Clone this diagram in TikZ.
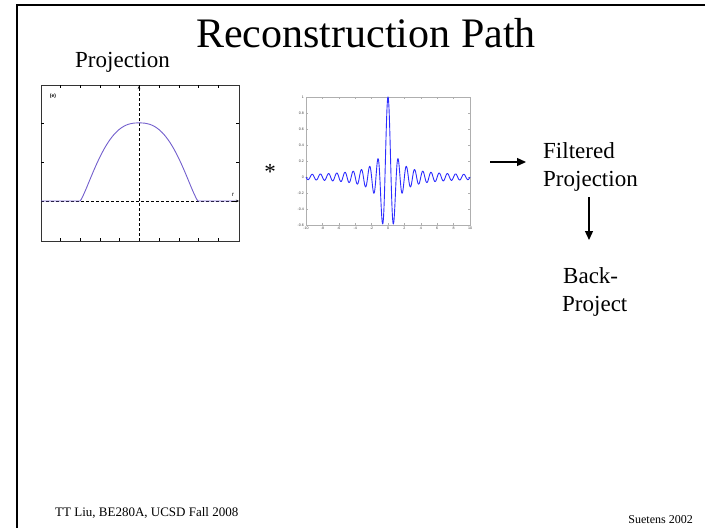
\documentclass[tikz,border=0pt]{standalone}
\usepackage{fontspec}
\setmainfont{Liberation Serif}
\setsansfont{Liberation Sans}
\usetikzlibrary{arrows.meta}
\definecolor{curvepurple}{RGB}{115,95,205}
\definecolor{filterblue}{RGB}{45,45,255}
\definecolor{axisgray}{RGB}{175,175,175}
\tikzset{
  txt/.style={inner sep=0pt, font=\fontsize{23}{28}\selectfont},
  arr/.style={line width=1.3pt, -{Triangle[length=9pt,width=8pt]}},
  tinylab/.style={inner sep=0pt, font=\sffamily\fontsize{3.6}{4}\selectfont, text=black!75},
  tk/.style={line width=0.4pt},
  gtk/.style={line width=0.35pt, draw=axisgray}
}
\begin{document}
\begin{tikzpicture}[x=1pt,y=-1pt]
\useasboundingbox (0,0) rectangle (706,528);
% slide border
\draw[line width=1.5pt] (705,5) -- (17,5) -- (17,528);
% title
\node[inner sep=0pt, anchor=base, font=\fontsize{42}{50}\selectfont] (title) at (366,47) {Reconstruction Path};
\node[txt, anchor=base west] (proj) at (75,67) {Projection};

% ---------- plot 1: projection ----------
\draw[line width=0.8pt, black!80] (41,85) rectangle (239,241);
\foreach \t in {60,80,100,119,139,159,179,198,218}{
  \draw[tk] (\t,85) -- (\t,88);
  \draw[tk] (\t,241) -- (\t,238);
}
\foreach \t in {123,162}{
  \draw[tk] (41,\t) -- (44,\t);
  \draw[tk] (239,\t) -- (236,\t);
}
\draw[dashed, line width=0.6pt, dash pattern=on 3pt off 2pt, -{Stealth[length=3pt,width=2.5pt]}] (139,241) -- (139,86);
\draw[dashed, line width=0.6pt, dash pattern=on 3pt off 2pt] (41,201) -- (237,201);
\draw[curvepurple, line width=0.9pt] (41,201) -- (80,201)
  -- plot[domain=-0.999:0.999, samples=120] ({139+59*(\x)},{201-78*(max(1.001-(abs(\x)+0.0001)^2.5,0.0001))^1.3})
  -- (198,201) -- (238,201);
\draw[line width=0.5pt, -{Stealth[length=3pt,width=2.5pt]}] (232,201) -- (239,201);
\node[inner sep=0pt, font=\sffamily\bfseries\fontsize{5}{6}\selectfont] (elab) at (53,96) {(e)};
\node[inner sep=0pt, font=\sffamily\fontsize{6}{7}\selectfont] (rlab) at (233,195) {r};

% convolution star
\node[txt] (star) at (270,172) {*};

% ---------- plot 2: filter kernel ----------
\draw[line width=0.4pt, draw=axisgray] (306,97) rectangle (470,225);
\foreach \v/\lab in {1/1,0.8/0.8,0.6/0.6,0.4/0.4,0.2/0.2,0/0,-0.2/-0.2,-0.4/-0.4,-0.6/-0.6}{
  \draw[gtk] (306,{177-80*(\v)}) -- (308,{177-80*(\v)});
  \draw[gtk] (470,{177-80*(\v)}) -- (468,{177-80*(\v)});
  \node[tinylab, anchor=east] at (304,{177-80*(\v)}) {\lab};
}
\foreach \u in {-10,-8,-6,-4,-2,0,2,4,6,8,10}{
  \draw[gtk] ({388+8.2*(\u)},225) -- ({388+8.2*(\u)},223);
  \draw[gtk] ({388+8.2*(\u)},97) -- ({388+8.2*(\u)},99);
  \node[tinylab, anchor=north] at ({388+8.2*(\u)},227) {\u};
}
\draw[filterblue, line width=0.9pt] plot[domain=-10:10, samples=800]
  ({388+8.2*(\x)},{177-80*(sin(360*(\x))/(pi*(\x)) - (sin(180*(\x))/(pi*(\x)))^2)});

% ---------- text and arrows ----------
\node[txt, anchor=base west] (filt) at (543,158) {Filtered};
\node[txt, anchor=base west] (fproj) at (543,186) {Projection};
\node[txt, anchor=base west] (back) at (563,283) {Back-};
\node[txt, anchor=base west] (bproj) at (562,311) {Project};
\coordinate (h1) at (490,162);
\coordinate (h2) at (526,162);
\draw[arr] (h1) -- (h2);
\coordinate (v1) at (589,197);
\coordinate (v2) at (589,240);
\draw[arr] (v1) -- (v2);

% footer
\node[inner sep=0pt, anchor=base west, font=\fontsize{13}{15}\selectfont] (foot) at (55,516) {TT Liu, BE280A, UCSD Fall 2008};
\node[inner sep=0pt, anchor=base east, font=\fontsize{12}{14}\selectfont] (cite) at (693,523) {Suetens 2002};
\end{tikzpicture}
\end{document}
